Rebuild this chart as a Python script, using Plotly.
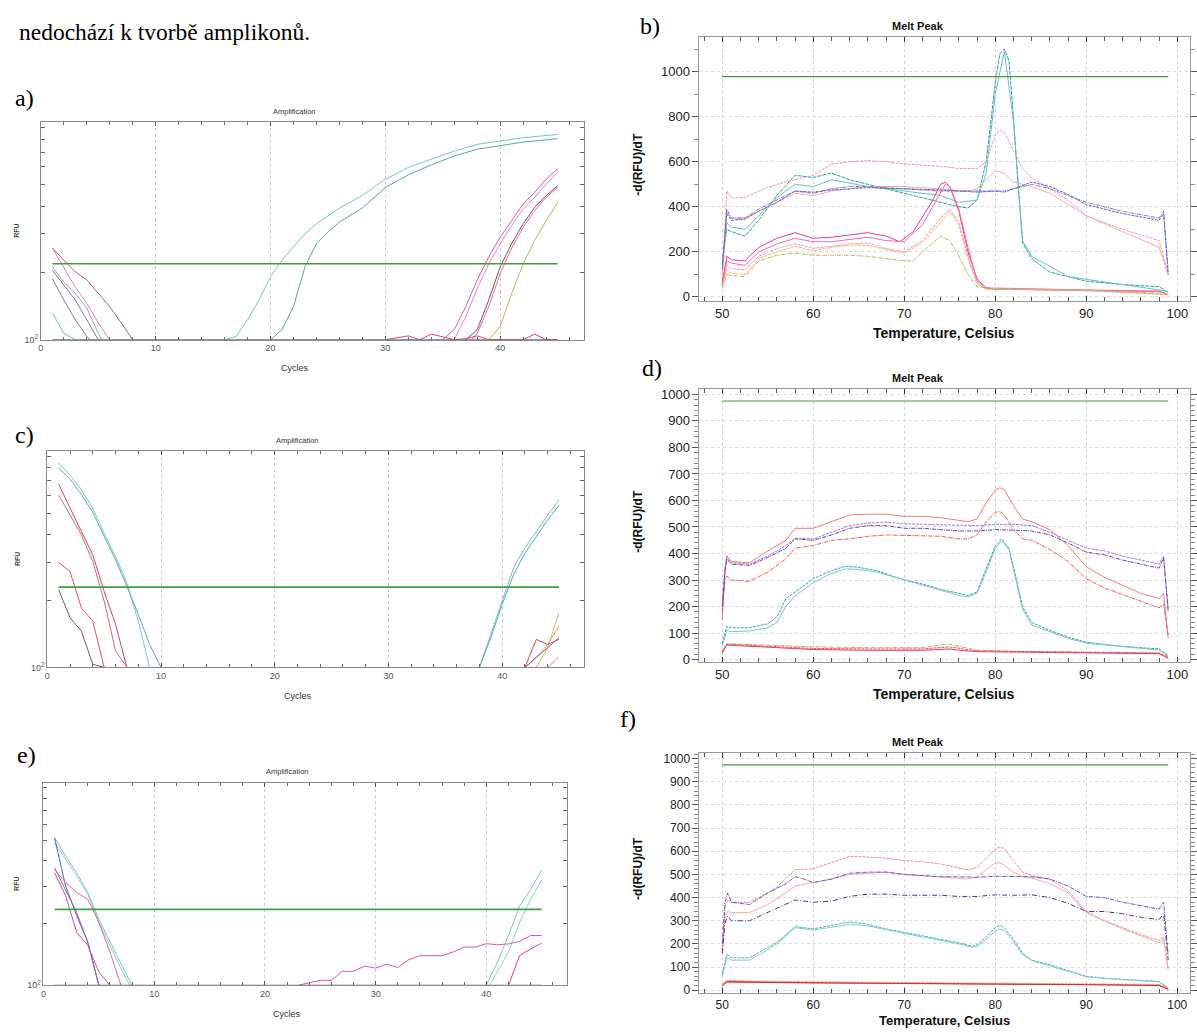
import plotly.graph_objects as go

W, H = 1197, 1032

# ---------------- texts ----------------
INTRO_TEXT = "nedochází k tvorbě amplikonů."
PANEL_LABELS = ["a)", "b)", "c)", "d)", "e)", "f)"]
AMP_TITLE = "Amplification"
MELT_TITLE = "Melt Peak"
AMP_XTITLE = "Cycles"
AMP_YTITLE = "RFU"
MELT_XTITLE = "Temperature, Celsius"
MELT_YTITLE = "-d(RFU)/dT"

# ---------------- ticks ----------------
AMP_XTICKS = [0, 10, 20, 30, 40]
AMP_YTICKS = [100, 200, 300, 400, 500, 600, 700, 800, 900]
AMP_YTICKTEXT = ["10<sup>2</sup>", " ", " ", " ", " ", " ", " ", " ", " "]
MELT_XTICKS = [50, 60, 70, 80, 90, 100]
MELT_B_YTICKS = [0, 200, 400, 600, 800, 1000]
MELT_DF_YTICKS = [0, 100, 200, 300, 400, 500, 600, 700, 800, 900, 1000]

# ---------------- thresholds ----------------
THRESH_CYCLES = [1, 45]
A_THRESHOLD = 220
C_THRESHOLD = 231
E_THRESHOLD = 233
THRESH_TEMPS = [50, 99]
B_THRESHOLD = 978
D_THRESHOLD = 975
F_THRESHOLD = 973

# ---------------- panel a (amplification) ----------------
a_cycles = [
    [16, 17, 18, 19, 20, 21, 22, 23, 24, 25, 26, 28, 30, 32, 34, 36, 38, 40, 42, 45],
    [20, 21, 22, 23, 24, 25, 26, 28, 30, 32, 34, 36, 38, 40, 42, 45],
    [35, 36, 37, 38, 39, 40, 41, 42, 43, 44, 45],
    [36, 37, 38, 39, 40, 41, 42, 43, 44, 45],
    [37, 38, 39, 40, 41, 42, 43, 44, 45],
    [37.5, 38, 39, 40, 41, 42, 43, 44, 45],
    [39, 40, 41, 42, 43, 44, 45],
    [1, 2, 3, 4, 5, 6, 7, 8],
    [1, 2, 3, 4, 5, 6],
    [1, 2, 3, 4, 5, 5.3],
    [1, 2, 3, 4, 5],
    [1, 2, 3, 4, 4.3],
    [1, 2, 3],
    [30, 31, 32, 33, 34, 35, 36, 37, 38, 39, 40, 41, 42, 43, 44, 45],
    [1, 45],
]
a_rfu = [
    [100, 103.5, 123, 151, 192, 228, 262, 300, 333, 362, 392, 446, 529, 597, 650, 708, 759, 785, 813, 841],
    [100, 111, 141, 213, 271, 305, 339, 392, 485, 553, 613, 673, 721, 751, 777, 804],
    [100, 111, 141, 186, 236, 290, 344, 409, 461, 529, 587],
    [100, 127, 170, 220, 271, 327, 388, 438, 502, 567],
    [100, 111, 151, 213, 271, 333, 395, 446, 494],
    [100, 107, 141, 199, 259, 321, 382, 438, 485],
    [100, 115, 162, 220, 280, 344, 416],
    [259, 228, 202, 186, 162, 141, 119, 100],
    [259, 213, 173, 146, 119, 100],
    [213, 182, 162, 139, 107, 100],
    [206, 176, 151, 123, 100],
    [189, 151, 123, 103.5, 100],
    [132, 107, 100],
    [100, 102, 104, 100, 106, 103, 100, 101, 104, 100, 100, 100, 100, 106, 100, 100],
    [100, 100],
]
a_colors = ["#78c6c0", "#5aa6a4", "#d65aa8", "#e684bc", "#94465c", "#dc7494", "#ccac58",
            "#b46464", "#d8849e", "#8eaeae", "#8e74a0", "#808080", "#74bebe", "#d64a62", "#555555"]

# ---------------- panel c (amplification) ----------------
c_cycles = [
    [1, 2, 3, 4, 5, 6, 7, 8, 9],
    [1, 2, 3, 4, 5, 6, 7, 8, 9, 10],
    [1, 2, 3, 4, 5, 6, 7],
    [1, 2, 3, 4, 5, 6, 7],
    [1, 2, 3, 4, 5],
    [1, 2, 3, 4, 5],
    [38, 39, 40, 41, 42, 43, 44, 45],
    [38, 39, 40, 41, 42, 43, 44, 45],
    [42, 43, 44, 45],
    [43, 44, 45],
    [42, 43, 44, 45],
    [42, 43, 44, 45],
    [44, 45],
    [1, 45],
]
c_rfu = [
    [843, 742, 635, 525, 405, 318, 241, 162, 100],
    [801, 710, 607, 504, 392, 307, 233, 174, 127, 100],
    [676, 525, 412, 324, 221, 157, 100],
    [603, 490, 398, 302, 200, 119, 100],
    [299, 272, 186, 162, 100],
    [225, 168, 146, 103.5, 100],
    [100, 141, 200, 282, 347, 412, 490, 573],
    [100, 136.5, 193, 263, 329, 392, 465, 543],
    [100, 111, 127, 154],
    [100, 123, 177],
    [100, 134, 127, 134],
    [100, 111, 123, 136.5],
    [100, 111.7],
    [100, 100],
]
c_colors = ["#74c8be", "#5cacac", "#c44c64", "#d66676", "#d4565c", "#745474",
            "#6cc4b8", "#58aaaa", "#e0a44c", "#d8b45c", "#d04c4c", "#7868b4", "#e47ca8", "#555555"]

# ---------------- panel e (amplification) ----------------
e_cycles = [
    [1, 2, 3, 4, 5, 6, 7, 8],
    [1, 2, 3, 4, 5, 6, 7, 7.8],
    [1, 2, 3, 4, 5],
    [1, 2, 3, 4, 5],
    [1, 2, 3, 4, 5, 6, 7],
    [1, 2, 3, 4, 5, 6],
    [23, 24, 25, 26, 27, 28, 29, 30, 31, 32, 33, 34, 35, 36, 37, 38, 39, 40, 41, 42, 43, 44, 45],
    [40, 41, 42, 43, 44, 45],
    [40.3, 41, 42, 43, 44, 45],
    [42, 43, 44, 45],
    [1, 45],
]
e_rfu = [
    [516, 421, 350, 281, 209, 161.5, 127, 100],
    [488, 406, 338, 276, 201.5, 156, 120, 100],
    [516, 302, 217, 161.5, 100],
    [370, 291, 225, 161.5, 100],
    [363, 314, 281, 261, 201.5, 145, 100],
    [350, 271, 180, 156, 116, 100],
    [100, 103, 105.7, 105.7, 116.8, 116.8, 123.8, 121, 126.6, 122, 133, 139, 139, 139, 145, 153,
     153, 159, 157, 158.5, 163, 174, 174],
    [100, 129.4, 174, 242, 291, 361],
    [100, 116, 145, 201.5, 261, 323],
    [100, 139, 150, 160],
    [100, 100],
]
e_colors = ["#74c8be", "#92ccc6", "#4c6ab4", "#9064a6", "#d86ca0", "#c4567e",
            "#d058a6", "#74c8bc", "#94d0c8", "#cc4c72", "#555555"]

# ---------------- panel b (melt peak) ----------------
b_temps = [
    [50, 50.5, 51, 52.5, 54, 56, 58, 60, 62, 64, 66, 68, 70, 72, 74, 76, 77, 78, 79, 80, 80.5, 81, 81.5, 82, 82.5, 83, 84, 86, 88, 90, 94, 98, 99],
    [50, 50.5, 51, 52.5, 54, 56, 58, 60, 62, 64, 66, 70, 74, 76, 78, 79, 80, 81, 82, 83, 84, 88, 94, 99],
    [50, 50.5, 51, 52.5, 54, 56, 58, 60, 62, 64, 66, 68, 70, 74, 76, 78, 79, 80, 80.5, 81, 82, 83, 84, 86, 88, 90, 94, 98, 99],
    [50, 50.5, 51, 52.5, 54, 56, 58, 60, 62, 64, 66, 70, 74, 77, 78, 80, 81, 82, 84, 86, 88, 90, 94, 98, 99],
    [50, 50.5, 51, 52.5, 54, 56, 58, 60, 62, 64, 66, 70, 74, 78, 80, 81, 82, 84, 86, 88, 90, 94, 98, 98.5, 99],
    [50, 50.5, 51, 52.5, 54, 56, 58, 60, 62, 64, 66, 70, 74, 78, 80, 81, 82, 84, 86, 88, 90, 94, 98, 98.5, 99],
    [50, 50.5, 51, 52.5, 54, 56, 58, 60, 62, 64, 66, 68, 69.5, 71, 73, 74, 74.5, 75, 76, 77, 78, 79, 80, 90, 98, 99],
    [50, 50.5, 51, 52.5, 54, 56, 58, 60, 62, 64, 66, 68, 70, 72, 74, 74.5, 75, 76, 77, 78, 79, 90, 98, 99],
    [50, 50.5, 51, 52.5, 54, 56, 58, 60, 62, 64, 66, 68, 70, 72, 74, 75, 76, 77, 78, 79, 90, 99],
    [50, 50.5, 51, 52.5, 54, 56, 58, 60, 62, 64, 66, 68, 70, 72, 74, 75, 76, 77, 78, 79, 90, 99],
    [50, 50.5, 51, 52.5, 54, 56, 58, 60, 62, 64, 66, 68, 70, 71, 72, 74, 75, 76, 77, 78, 80, 90, 99],
]
b_values = [
    [150, 300, 290, 270, 340, 450, 540, 530, 550, 520, 500, 480, 460, 440, 420, 400, 395, 430, 600, 950, 1080, 1100, 1050, 800, 500, 240, 170, 110, 90, 70, 55, 45, 20],
    [130, 330, 310, 300, 360, 440, 500, 490, 520, 505, 490, 470, 450, 420, 430, 550, 900, 1090, 780, 250, 180, 90, 55, 25],
    [80, 470, 440, 440, 470, 500, 520, 540, 590, 600, 605, 600, 590, 580, 570, 570, 600, 720, 740, 730, 650, 570, 530, 480, 430, 360, 300, 250, 100],
    [70, 380, 350, 350, 380, 420, 460, 450, 470, 480, 490, 490, 480, 470, 480, 560, 550, 510, 490, 460, 410, 360, 290, 220, 100],
    [120, 390, 350, 350, 390, 430, 470, 460, 480, 490, 490, 480, 470, 470, 470, 470, 480, 500, 480, 450, 420, 380, 350, 380, 110],
    [140, 370, 340, 345, 380, 420, 470, 465, 475, 480, 485, 480, 475, 465, 470, 465, 480, 510, 490, 455, 410, 370, 340, 370, 100],
    [60, 180, 165, 160, 220, 260, 285, 260, 265, 275, 285, 270, 245, 290, 420, 500, 510, 490, 380, 200, 80, 40, 35, 28, 25, 10],
    [50, 160, 150, 140, 200, 235, 260, 245, 245, 255, 265, 250, 245, 320, 460, 500, 490, 390, 220, 70, 40, 30, 25, 10],
    [50, 140, 125, 120, 180, 215, 235, 215, 225, 235, 240, 215, 200, 250, 350, 390, 330, 180, 60, 35, 28, 10],
    [45, 120, 105, 100, 170, 200, 225, 205, 220, 230, 230, 210, 195, 240, 330, 380, 320, 170, 60, 35, 30, 10],
    [40, 100, 95, 90, 160, 185, 195, 185, 185, 185, 180, 170, 160, 160, 200, 270, 250, 180, 100, 45, 35, 30, 15],
]
b_colors = ["#2f9c9c", "#66c2ba", "#f294a0", "#f4aaae", "#8a70c8", "#5866c4",
            "#e23c90", "#f06ea4", "#f49ab6", "#f2b070", "#bcb45a"]
b_dashes = ["4px,1px", "solid", "3px,1px", "solid", "4px,1px,1px,1px", "3px,1px",
            "solid", "solid", "3px,1px", "3px,1px", "4px,1px,1px,1px"]

# ---------------- panel d (melt peak) ----------------
d_temps = [
    [50, 50.3, 50.5, 51, 53, 55, 57, 58, 60, 62, 64, 66, 68, 70, 72, 74, 76, 77, 78, 79, 80, 80.5, 81, 82, 83, 84, 86, 88, 90, 92, 94, 96, 98, 98.5, 99],
    [50, 50.3, 50.5, 51, 53, 55, 57, 58, 60, 62, 64, 66, 68, 70, 72, 74, 76, 77, 78, 79, 80, 80.5, 81, 82, 83, 84, 86, 88, 90, 92, 94, 96, 98, 98.5, 99],
    [50, 50.3, 50.5, 51, 53, 55, 57, 58, 60, 62, 64, 66, 68, 70, 72, 74, 76, 78, 80, 82, 84, 86, 88, 90, 92, 94, 96, 98, 98.5, 99],
    [50, 50.3, 50.5, 51, 53, 55, 57, 58, 60, 62, 64, 66, 68, 70, 72, 74, 76, 78, 80, 82, 84, 86, 88, 90, 92, 94, 96, 98, 98.5, 99],
    [50, 50.5, 51, 53, 55, 56, 57, 58, 60, 62, 63.5, 65, 67, 70, 72, 74, 76, 77, 78, 79, 80, 80.7, 81.5, 82, 83, 84, 86, 88, 90, 94, 98, 99],
    [50, 50.5, 51, 53, 55, 56, 57, 58, 60, 62, 63.5, 65, 67, 70, 72, 74, 76, 77, 78, 79, 80, 80.7, 81.5, 82, 83, 84, 86, 88, 90, 94, 98, 99],
    [50, 50.5, 52, 56, 60, 66, 72, 74, 75, 76, 78, 84, 90, 98, 99],
    [50, 50.5, 52, 56, 60, 66, 72, 75, 76, 78, 84, 90, 98, 99],
    [50, 50.5, 52, 56, 60, 66, 72, 75, 76, 78, 84, 90, 98, 99],
]
d_values = [
    [150, 330, 390, 370, 365, 410, 450, 495, 495, 520, 545, 548, 548, 540, 540, 535, 525, 520, 530, 590, 640, 648, 640, 580, 530, 520, 490, 430, 350, 310, 280, 250, 230, 250, 80],
    [180, 300, 315, 300, 295, 330, 380, 420, 430, 450, 455, 465, 470, 468, 468, 465, 455, 455, 470, 520, 555, 558, 545, 490, 455, 450, 415, 370, 305, 270, 245, 220, 195, 210, 90],
    [220, 350, 390, 365, 360, 390, 430, 458, 455, 480, 505, 515, 518, 512, 510, 508, 505, 505, 510, 510, 505, 480, 450, 420, 410, 390, 375, 360, 390, 190],
    [200, 330, 380, 360, 355, 385, 420, 455, 450, 470, 495, 505, 505, 495, 495, 490, 485, 485, 490, 488, 485, 470, 440, 405, 395, 375, 360, 345, 385, 180],
    [60, 125, 120, 120, 135, 160, 230, 255, 305, 335, 352, 348, 335, 300, 285, 265, 248, 242, 255, 340, 430, 455, 420, 350, 200, 140, 110, 85, 65, 50, 40, 15],
    [50, 110, 105, 108, 120, 140, 200, 240, 290, 325, 342, 340, 330, 300, 282, 262, 242, 236, 250, 330, 420, 448, 415, 340, 190, 130, 105, 80, 62, 48, 36, 12],
    [30, 60, 58, 52, 48, 45, 45, 55, 58, 50, 35, 30, 28, 25, 10],
    [25, 55, 52, 45, 38, 35, 35, 40, 35, 30, 28, 25, 22, 5],
    [28, 58, 55, 48, 42, 40, 40, 48, 42, 32, 30, 27, 24, 8],
]
d_colors = ["#f67878", "#f25252", "#a07ad8", "#6444a8", "#3aa2a2", "#76c8c4", "#b0b04c", "#e43480", "#f24c5a"]
d_dashes = ["solid", "4px,1px,1px,1px", "3px,1px", "4px,1px,1px,1px", "3px,1px", "solid",
            "4px,1px,1px,1px", "solid", "3px,1px"]

# ---------------- panel f (melt peak) ----------------
f_temps = [
    [50, 50.3, 50.6, 51, 53, 55, 56, 58, 60, 62, 64, 66, 68, 70, 72, 74, 76, 77, 78, 79, 80, 80.5, 81, 82, 83, 84, 86, 88, 90, 92, 94, 96, 98, 98.5, 99],
    [50, 50.3, 50.6, 51, 53, 55, 57, 58, 60, 62, 64, 66, 68, 70, 72, 74, 76, 77, 78, 79, 80, 80.5, 81, 82, 83, 84, 86, 88, 90, 92, 94, 96, 98, 98.5, 99],
    [50, 50.3, 50.6, 51, 53, 55, 57, 58, 59, 60, 62, 64, 66, 68, 70, 72, 74, 76, 78, 80, 82, 84, 86, 88, 90, 92, 94, 96, 98, 98.5, 99],
    [50, 50.3, 50.6, 51, 53, 55, 57, 58, 60, 62, 64, 66, 68, 70, 72, 74, 76, 78, 80, 82, 84, 86, 88, 90, 92, 94, 96, 98, 98.5, 99],
    [50, 50.5, 51, 53, 55, 56, 58, 60, 62, 64, 66, 68, 70, 72, 74, 76, 77.5, 78, 79, 80, 80.5, 81, 82, 83, 84, 86, 88, 90, 92, 94, 96, 98, 99],
    [50, 50.5, 51, 53, 55, 56, 58, 60, 62, 64, 66, 68, 70, 72, 74, 76, 77.5, 78, 79, 80, 80.5, 81, 82, 83, 84, 86, 88, 90, 94, 98, 99],
    [50, 50.5, 55, 60, 70, 80, 90, 98, 99],
    [50, 50.5, 56, 64, 70, 80, 90, 98, 99],
    [50, 50.5, 56, 64, 70, 80, 90, 98, 99],
]
f_values = [
    [170, 360, 390, 380, 380, 420, 445, 520, 525, 550, 578, 575, 570, 560, 555, 545, 530, 520, 530, 570, 610, 620, 610, 560, 510, 495, 480, 430, 340, 300, 270, 240, 215, 230, 90],
    [150, 320, 340, 335, 335, 370, 420, 450, 465, 480, 500, 505, 510, 500, 495, 490, 485, 480, 490, 520, 550, 550, 540, 510, 490, 485, 460, 420, 335, 300, 265, 235, 205, 220, 90],
    [200, 380, 420, 380, 370, 420, 460, 490, 480, 465, 480, 505, 510, 510, 500, 495, 490, 490, 488, 492, 492, 490, 480, 450, 405, 400, 380, 365, 350, 380, 150],
    [160, 290, 320, 300, 300, 335, 370, 390, 380, 385, 405, 415, 415, 410, 410, 410, 405, 405, 412, 410, 412, 400, 375, 340, 340, 330, 315, 305, 330, 130],
    [70, 155, 140, 140, 185, 205, 275, 265, 280, 295, 285, 265, 250, 235, 220, 205, 190, 195, 230, 270, 280, 270, 220, 160, 130, 110, 85, 60, 52, 47, 42, 38, 10],
    [60, 140, 130, 130, 175, 200, 270, 260, 272, 285, 278, 260, 245, 230, 215, 200, 185, 190, 220, 255, 265, 258, 210, 155, 128, 105, 80, 58, 45, 36, 8],
    [20, 38, 36, 32, 30, 27, 25, 22, 5],
    [25, 42, 38, 36, 33, 30, 28, 25, 8],
    [18, 35, 33, 30, 28, 26, 24, 20, 4],
]
f_colors = ["#ec8a9a", "#f4aaaa", "#6454ac", "#543678", "#44b2b2", "#84ccc4", "#e23a76", "#e4a84c", "#d42a48"]
f_dashes = ["3px,1px", "solid", "4px,1px,1px,1px", "5px,2px,1px,2px", "3px,1px", "solid",
            "solid", "3px,1px", "solid"]

THRESH_COLOR = "#3c9e3c"


# ---------------- helpers ----------------
def px(x):
    return x / W


def py(y):
    return 1 - y / H


fig = go.Figure()

AMP_FONT = "Liberation Sans Narrow, Arial Narrow, Liberation Sans, Arial"
MELT_FONT = "Liberation Sans, Arial, Helvetica"
SERIF = "Liberation Serif, Times New Roman, serif"

# panel geometry (pixel boxes: left, right, top, bottom, range)
AMP_BOXES = {
    "a": (38, 584, 121, 340, [0, 47.3]),
    "c": (44.5, 584, 452, 670, [0, 47.2]),
    "e": (40.7, 567, 786, 990, [0, 47.3]),
}
# melt: left, right, top, bottom, y-range, x-title y, tick font, x-title font
MELT_BOXES = {
    "b": (700, 1193, 35, 301, [-18, 1155], 333, 13, 14),
    "d": (700, 1193, 390, 665, [-11, 1019], 697, 13, 14),
    "f": (700, 1193, 756, 998, [-13, 1025], 1025, 12, 13),
}
AXIS_IDS = {"a": "", "b": "2", "c": "3", "d": "4", "e": "5", "f": "6"}

amp_sets = {
    "a": (a_cycles, a_rfu, a_colors, A_THRESHOLD),
    "c": (c_cycles, c_rfu, c_colors, C_THRESHOLD),
    "e": (e_cycles, e_rfu, e_colors, E_THRESHOLD),
}
melt_sets = {
    "b": (b_temps, b_values, b_colors, b_dashes, B_THRESHOLD),
    "d": (d_temps, d_values, d_colors, d_dashes, D_THRESHOLD),
    "f": (f_temps, f_values, f_colors, f_dashes, F_THRESHOLD),
}

layout_axes = {}
annotations = []


def note(x, y, text, size, family, color="#111", angle=0, xanchor="center"):
    annotations.append(dict(x=px(x), y=py(y), xref="paper", yref="paper", text=text,
                            showarrow=False, xanchor=xanchor, yanchor="middle",
                            textangle=angle, font=dict(family=family, size=size, color=color)))


for key, (cyc, rfu, cols, thr) in amp_sets.items():
    aid = AXIS_IDS[key]
    xa, ya = "x" + aid, "y" + aid
    for xs, ys, col in zip(cyc, rfu, cols):
        fig.add_trace(go.Scatter(x=xs, y=ys, mode="lines", xaxis=xa, yaxis=ya,
                                 line=dict(color=col, width=1), hoverinfo="skip"))
    fig.add_trace(go.Scatter(x=THRESH_CYCLES, y=[thr, thr], mode="lines", xaxis=xa, yaxis=ya,
                             line=dict(color=THRESH_COLOR, width=1.6), hoverinfo="skip"))
    l, r, t, b, xr = AMP_BOXES[key]
    layout_axes["xaxis" + aid] = dict(
        domain=[px(l), px(r)], anchor=ya, range=xr, tickvals=AMP_XTICKS,
        ticks="inside", ticklen=4, tickcolor="#555", mirror="ticks",
        showline=True, linecolor="#8a8a8a", linewidth=1,
        showgrid=True, gridcolor="#cccccc", griddash="dot", gridwidth=1,
        zeroline=False, tickfont=dict(family=AMP_FONT, size=9, color="#555"),
        minor=dict(dtick=2, ticks="inside", ticklen=3, tickcolor="#666", showgrid=False),
    )
    layout_axes["yaxis" + aid] = dict(
        domain=[py(b), py(t)], anchor=xa, type="log", range=[2, 2.98],
        tickvals=AMP_YTICKS, ticktext=AMP_YTICKTEXT, ticks="inside", ticklen=4,
        tickcolor="#666", mirror="ticks", showline=True, linecolor="#8a8a8a", linewidth=1,
        showgrid=False, zeroline=False, tickfont=dict(family=AMP_FONT, size=9, color="#555"),
    )
    cx = (l + r) / 2 - 18
    note(cx, t - 11, AMP_TITLE, 7.5, AMP_FONT, "#333")
    note(cx, b + 29, AMP_XTITLE, 9, AMP_FONT, "#333")
    note(14, (t + b) / 2, "<b>" + AMP_YTITLE + "</b>", 7, MELT_FONT, "#444", angle=-90)

for key, (ts, vs, cols, dashes, thr) in melt_sets.items():
    aid = AXIS_IDS[key]
    xa, ya = "x" + aid, "y" + aid
    for xs, ys, col, dsh in zip(ts, vs, cols, dashes):
        fig.add_trace(go.Scatter(x=xs, y=ys, mode="lines", xaxis=xa, yaxis=ya,
                                 line=dict(color=col, width=1, dash=dsh), hoverinfo="skip"))
    fig.add_trace(go.Scatter(x=THRESH_TEMPS, y=[thr, thr], mode="lines", xaxis=xa, yaxis=ya,
                             line=dict(color=THRESH_COLOR, width=1.2), hoverinfo="skip"))
    l, r, t, b, yr, xty, tfs, xtfs = MELT_BOXES[key]
    yt = MELT_B_YTICKS if key == "b" else MELT_DF_YTICKS
    ydt = 100 if key == "b" else 20
    layout_axes["xaxis" + aid] = dict(
        domain=[px(l), px(r)], anchor=ya, range=[47.5, 101.4], tickvals=MELT_XTICKS,
        ticks="inside", ticklen=5, tickcolor="#333", mirror="ticks",
        showline=True, linecolor="#999", linewidth=1,
        showgrid=True, gridcolor="#d2d2d2", griddash="dot", gridwidth=1,
        zeroline=False, tickfont=dict(family=MELT_FONT, size=tfs, color="#222"),
        minor=dict(dtick=2, ticks="inside", ticklen=4, tickcolor="#555", showgrid=False),
    )
    layout_axes["yaxis" + aid] = dict(
        domain=[py(b), py(t)], anchor=xa, range=yr, tickvals=yt,
        ticks="outside", ticklen=6, tickcolor="#555", mirror="ticks",
        showline=True, linecolor="#999", linewidth=1,
        showgrid=True, gridcolor="#dadada", griddash="dot", gridwidth=1,
        zeroline=False, tickfont=dict(family=MELT_FONT, size=tfs, color="#222"),
        minor=dict(dtick=ydt, ticks="outside", ticklen=4, tickcolor="#888", showgrid=False),
    )
    note(920, t - 11, "<b>" + MELT_TITLE + "</b>", 11, MELT_FONT, "#111")
    note(946, xty, "<b>" + MELT_XTITLE + "</b>", xtfs, MELT_FONT, "#111")
    note(638, (t + b) / 2 - 5, "<b>" + MELT_YTITLE + "</b>", 12, MELT_FONT, "#111", angle=-90)

# intro text and panel letters
note(14, 30, INTRO_TEXT, 23.5, SERIF, "#000", xanchor="left")
LABEL_POS = [(10, 97), (638, 24), (10, 436), (640, 368), (12, 758), (618, 722)]
for lab, (lx, ly) in zip(PANEL_LABELS, LABEL_POS):
    note(lx, ly, lab, 24, SERIF, "#000", xanchor="left")

fig.update_layout(
    width=W, height=H, margin=dict(l=0, r=0, t=0, b=0),
    paper_bgcolor="white", plot_bgcolor="white", showlegend=False,
    annotations=annotations, **layout_axes,
)

fig.write_html("out.html", config={"displayModeBar": False},
               post_script="document.body.style.margin='0px';")
